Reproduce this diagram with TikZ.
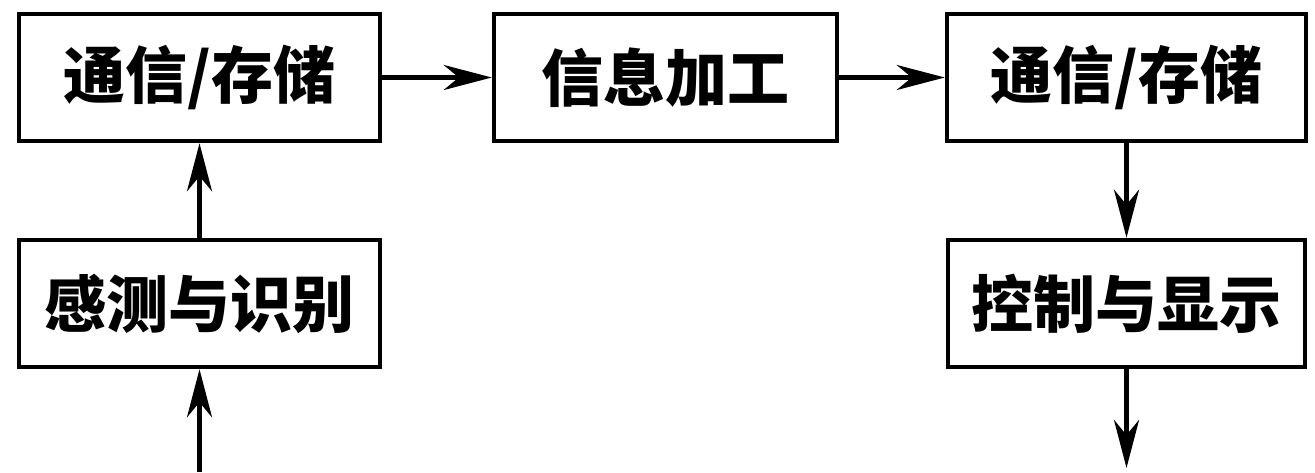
\documentclass[tikz,border=0pt]{standalone}
\usepackage{fontspec}
\newfontfamily\cjk{Noto Sans CJK SC}
\usetikzlibrary{arrows.meta}
\begin{document}
\begin{tikzpicture}[x=.5pt,y=.5pt,line join=miter,
  box/.style={draw,line width=2.25pt,minimum height=63.5pt,inner sep=0pt,
              font=\cjk\bfseries\fontsize{31}{31}\selectfont},
  flow/.style={-{Stealth[length=24pt,width=12.5pt,inset=7.5pt]},line width=2.25pt}]
\useasboundingbox (0,0) rectangle (1315,472);
\foreach \name/\x/\y/\w/\title in
  {comA/199.5/394.5/180.5pt/{通信/存储},
   proc/665.5/394.5/171.5pt/{信息加工},
   comB/1126.5/394.5/179.5pt/{通信/存储},
   sense/199.5/168.5/180.5pt/{感测与识别},
   ctrl/1126.5/168.5/178.5pt/{控制与显示}}
{
  \node[box,minimum width=\w] (\name) at (\x,\y) {\title};
}
\coordinate (src) at (199.5,0);
\coordinate (sink) at (1126.5,4);
\draw[flow] (src) -- (sense);
\draw[flow] (sense) -- (comA);
\draw[flow] (comA) -- (proc);
\draw[flow] (proc) -- (comB);
\draw[flow] (comB) -- (ctrl);
\draw[flow] (ctrl) -- (sink);
\end{tikzpicture}
\end{document}
